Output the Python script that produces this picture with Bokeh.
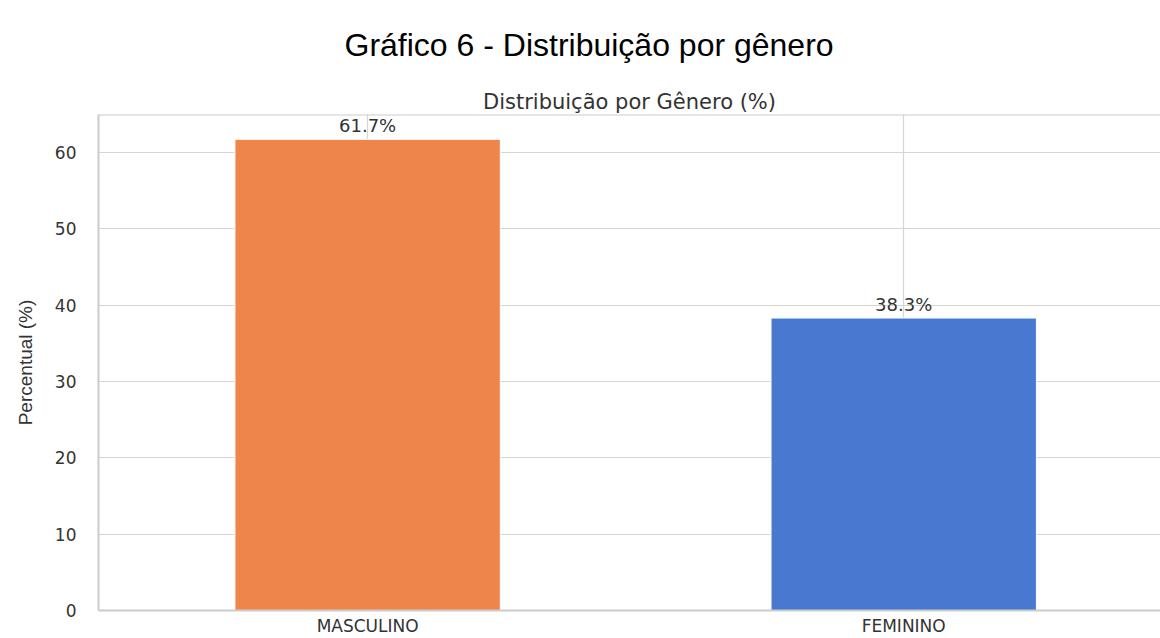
from bokeh.plotting import figure
from bokeh.models import Range1d, FixedTicker, Title, Span, ColumnDataSource
from bokeh.embed import file_html
from bokeh.resources import INLINE

categories = ["MASCULINO", "FEMININO"]
percentages = [61.7, 38.3]
bar_colors = ["#EE854A", "#4878D0"]
y_ticks = [0, 10, 20, 30, 40, 50, 60]

xs = list(range(len(categories)))
labels = [f"{v:.1f}%" for v in percentages]
src = ColumnDataSource(dict(x=xs, top=percentages, color=bar_colors, label=labels))

p = figure(width=1160, height=638, output_backend="svg", toolbar_location=None,
           x_range=Range1d(-0.502, 1.479), y_range=Range1d(0, 64.95),
           min_border_left=98, min_border_right=0, min_border_bottom=0, min_border_top=0)

p.title.text = "Gráfico 6 - Distribuição por gênero"
p.title.text_font = "Liberation Sans"
p.title.text_font_size = "32px"
p.title.text_font_style = "normal"
p.title.text_color = "#000000"
p.title.align = "left"
p.title.offset = 246
p.title.standoff = 48

sub = Title(text="Distribuição por Gênero (%)", text_font="DejaVu Sans",
            text_font_size="21px", text_font_style="normal", text_color="#333333",
            align="center", standoff=2)
p.add_layout(sub, "above")

p.outline_line_color = None
p.background_fill_color = "white"
p.border_fill_color = "white"

# grid
p.xgrid.ticker = FixedTicker(ticks=xs)
p.ygrid.ticker = FixedTicker(ticks=y_ticks)
p.xgrid.grid_line_color = "#d6d6d6"
p.ygrid.grid_line_color = "#d6d6d6"
p.xgrid.grid_line_width = 1.2
p.ygrid.grid_line_width = 1.2

# axes
p.xaxis.ticker = FixedTicker(ticks=xs)
p.xaxis.major_label_overrides = {i: c for i, c in enumerate(categories)}
p.yaxis.ticker = FixedTicker(ticks=y_ticks)
for ax in (p.xaxis[0], p.yaxis[0]):
    ax.axis_line_color = "#cccccc"
    ax.axis_line_width = 2
    ax.major_tick_line_color = None
    ax.minor_tick_line_color = None
    ax.major_tick_out = 0
    ax.major_tick_in = 0
    ax.minor_tick_out = 0
    ax.minor_tick_in = 0
    ax.major_label_text_font = "DejaVu Sans"
    ax.major_label_text_color = "#333333"
p.xaxis.major_label_text_font_size = "17px"
p.yaxis.major_label_text_font_size = "17px"
p.xaxis.major_label_standoff = 5
p.yaxis.major_label_standoff = 22

p.yaxis.axis_label = "Percentual (%)"
p.yaxis.axis_label_text_font = "Liberation Sans"
p.yaxis.axis_label_text_font_size = "19px"
p.yaxis.axis_label_text_font_style = "normal"
p.yaxis.axis_label_text_color = "#333333"
p.yaxis.axis_label_standoff = 16

top_spine = Span(location=64.95, dimension="width", line_color="#cccccc", line_width=2)
p.add_layout(top_spine)

p.vbar(x="x", top="top", width=0.495, bottom=0, fill_color="color",
       line_color="white", line_width=1, source=src)

p.text(x="x", y="top", text="label", source=src, text_align="center",
       text_baseline="bottom", y_offset=-3, text_font_size="18px",
       text_color="#333333", text_font={"value": "DejaVu Sans"})

open("out.html", "w").write(file_html(p, INLINE))
